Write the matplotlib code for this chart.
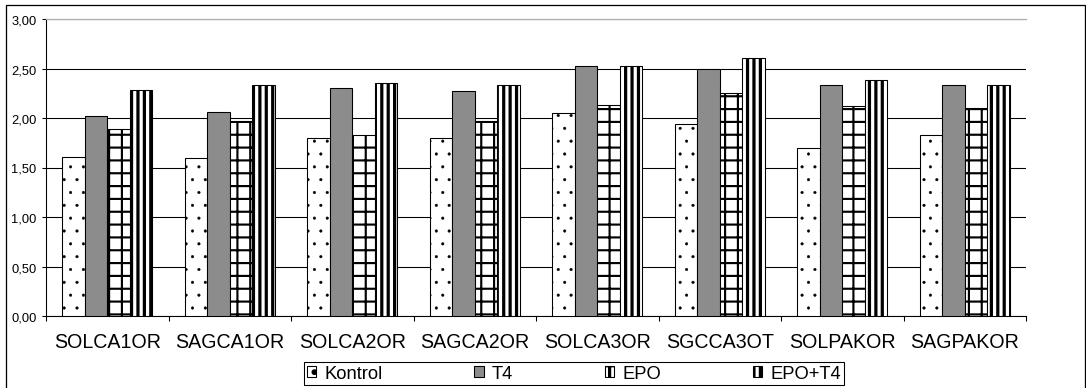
import matplotlib.pyplot as plt
import matplotlib.patches as mpatches
import numpy as np

plt.rcParams['font.family'] = ['Liberation Sans', 'DejaVu Sans']

# measurements per region, four treatment groups
categories = ['SOLCA1OR', 'SAGCA1OR', 'SOLCA2OR', 'SAGCA2OR',
              'SOLCA3OR', 'SGCCA3OT', 'SOLPAKOR', 'SAGPAKOR']
kontrol = [1.61, 1.60, 1.80, 1.80, 2.05, 1.94, 1.70, 1.83]
t4 = [2.02, 2.06, 2.30, 2.27, 2.53, 2.49, 2.33, 2.33]
epo = [1.89, 1.97, 1.83, 1.97, 2.13, 2.25, 2.12, 2.10]
epo_t4 = [2.28, 2.33, 2.35, 2.33, 2.53, 2.61, 2.38, 2.33]
series_names = ['Kontrol', 'T4', 'EPO', 'EPO+T4']

DPI = 77
fig = plt.figure(figsize=(1086 / DPI, 389 / DPI), dpi=DPI)
ax = fig.add_axes([46 / 1086, 72 / 389, 980 / 1086, 297 / 389])

x = np.arange(len(categories))
width = 0.184

styles = [
    dict(facecolor='white', hatch='.', hlw=0.4),
    dict(facecolor='#8c8c8c', hatch='', hlw=1.0),
    dict(facecolor='white', hatch='+', hlw=2.0),
    dict(facecolor='white', hatch='||', hlw=3.0),
]
series = [kontrol, t4, epo, epo_t4]
handles = []
for i, (vals, st, name) in enumerate(zip(series, styles, series_names)):
    plt.rcParams['hatch.linewidth'] = st['hlw']
    bars = ax.bar(x + (i - 1.5) * width, vals, width, facecolor=st['facecolor'],
                  edgecolor='black', hatch=st['hatch'], linewidth=1.0,
                  label=name, zorder=3)
    handles.append(bars)

ax.set_xlim(-0.5, len(categories) - 0.5)
ax.set_ylim(0, 3)
ax.set_yticks(np.arange(0, 3.01, 0.5))
ax.set_yticklabels(['{:.2f}'.format(v).replace('.', ',') for v in np.arange(0, 3.01, 0.5)],
                   fontsize=12)
ax.yaxis.grid(True, color='black', linewidth=1.0, zorder=0)
ax.set_axisbelow(True)

# category boundaries as ticks, names centered between them
ax.set_xticks(np.arange(-0.5, len(categories), 1.0))
ax.set_xticklabels([])
ax.set_xticks(x, minor=True)
ax.set_xticklabels(categories, minor=True, fontsize=18.4)
ax.tick_params(axis='x', which='major', length=5, width=1, direction='out')
ax.tick_params(axis='x', which='minor', length=0, pad=15)
ax.tick_params(axis='y', length=4, width=1, pad=5)

ax.spines['right'].set_visible(False)
ax.spines['top'].set_color('#b0b0b0')
ax.spines['top'].set_linewidth(1.2)
for s in ('left', 'bottom'):
    ax.spines[s].set_linewidth(1.0)

leg = fig.legend(handles=handles, labels=series_names, ncol=4, loc='center',
                 bbox_to_anchor=(574 / 1086, 14.5 / 389), fontsize=17.2,
                 handlelength=0.5, handleheight=0.5, handletextpad=0.45,
                 columnspacing=5.0, borderpad=0.15, fancybox=False,
                 edgecolor='black', framealpha=1)
leg.get_frame().set_linewidth(1.0)

# outer chart border
fig.patches.append(mpatches.Rectangle((6 / 1086, -2 / 389), 1079 / 1086, 385 / 389,
                                      transform=fig.transFigure, fill=False,
                                      edgecolor='black', linewidth=1.2))

fig.savefig('out.png', dpi=DPI)
